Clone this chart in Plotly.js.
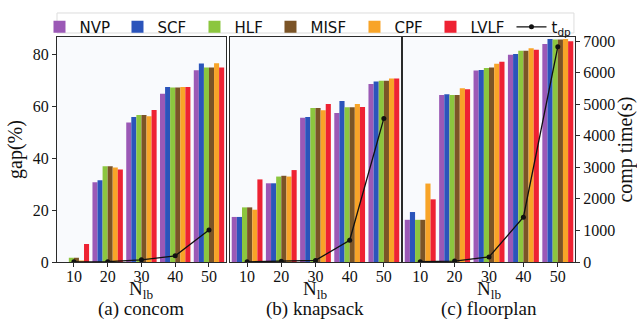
<!DOCTYPE html>
<html>
<head>
<meta charset="utf-8">
<script src="https://cdn.plot.ly/plotly-3.0.1.min.js"></script>
<style>html,body{margin:0;padding:0;background:#fff;}#chart{width:637px;height:320px;}</style>
</head>
<body>
<div id="chart"></div>
<script>
const nlb = [10, 20, 30, 40, 50];
const methods = ['NVP', 'SCF', 'HLF', 'MISF', 'CPF', 'LVLF'];
const methodColors = ['#9b59b6', '#2b54bb', '#8cc63f', '#7b5427', '#f8a428', '#ee2233'];

// gap(%) per method, for each benchmark
const concomNVP  = [0, 30.8, 53.9, 65.0, 74.1];
const concomSCF  = [0, 31.6, 56.0, 67.6, 76.7];
const concomHLF  = [1.6, 37.0, 56.8, 67.4, 75.1];
const concomMISF = [1.6, 37.0, 56.8, 67.4, 75.1];
const concomCPF  = [0.6, 36.5, 56.3, 67.6, 76.8];
const concomLVLF = [7.0, 35.7, 58.7, 67.6, 75.1];

const knapsackNVP  = [17.4, 30.4, 55.7, 57.5, 68.7];
const knapsackSCF  = [17.4, 30.4, 56.0, 62.2, 69.7];
const knapsackHLF  = [21.1, 33.0, 59.5, 59.8, 70.0];
const knapsackMISF = [21.1, 33.3, 59.5, 59.8, 70.0];
const knapsackCPF  = [20.2, 33.0, 58.6, 61.0, 70.9];
const knapsackLVLF = [31.9, 35.5, 61.0, 59.9, 70.9];

const floorplanNVP  = [16.3, 64.5, 74.0, 80.0, 84.2];
const floorplanSCF  = [19.3, 64.8, 74.2, 80.3, 86.1];
const floorplanHLF  = [16.3, 64.5, 74.9, 81.6, 85.9];
const floorplanMISF = [16.3, 64.5, 75.1, 81.6, 85.9];
const floorplanCPF  = [30.3, 67.1, 76.6, 82.6, 86.1];
const floorplanLVLF = [24.2, 66.7, 77.3, 82.0, 85.3];

// t_dp comp time (s)
const tdpConcom    = [5, 10, 70, 195, 1015];
const tdpKnapsack  = [5, 20, 50, 690, 4550];
const tdpFloorplan = [10, 30, 160, 1420, 6820];

const panelCaptions = ['(a) concom', '(b) knapsack', '(c) floorplan'];
const xTitle = 'N<sub>lb</sub>';
const gapTicks = [0, 20, 40, 60, 80];
const timeTicks = [0, 1000, 2000, 3000, 4000, 5000, 6000, 7000];

const panels = [
  {x: 'x',  y: 'y',  yt: 'y4', gaps: [concomNVP, concomSCF, concomHLF, concomMISF, concomCPF, concomLVLF], tdp: tdpConcom},
  {x: 'x2', y: 'y2', yt: 'y5', gaps: [knapsackNVP, knapsackSCF, knapsackHLF, knapsackMISF, knapsackCPF, knapsackLVLF], tdp: tdpKnapsack},
  {x: 'x3', y: 'y3', yt: 'y6', gaps: [floorplanNVP, floorplanSCF, floorplanHLF, floorplanMISF, floorplanCPF, floorplanLVLF], tdp: tdpFloorplan}
];

// legend entry widths (px) so the entries spread like the original legend
const legendWidths = [33, 32, 31, 39, 31, 36];

const traces = [];
panels.forEach((p, pi) => {
  methods.forEach((m, mi) => {
    traces.push({
      type: 'bar', x: nlb, y: p.gaps[mi], name: m, xaxis: p.x, yaxis: p.y,
      marker: {color: methodColors[mi], line: {width: 0}},
      legendgroup: m, showlegend: pi === 0, legendwidth: legendWidths[mi]
    });
  });
});
panels.forEach((p, pi) => {
  traces.push({
    type: 'scatter', mode: 'lines+markers', x: nlb, y: p.tdp, name: 't<sub>dp</sub>',
    xaxis: p.x, yaxis: p.yt, line: {color: '#111', width: 1.3}, marker: {color: '#111', size: 5},
    legendgroup: 'tdp', showlegend: pi === 0, legendwidth: 20
  });
});

const serif = 'Liberation Serif';
const frame = '#2a2a2a';
function xax(domain) {
  return {
    domain: domain, range: [5, 55], tickvals: nlb, ticks: 'outside', ticklen: 4, tickcolor: frame,
    tickfont: {family: serif, size: 16, color: '#111'}, ticklabelstandoff: -4, showline: true, mirror: true,
    linecolor: frame, linewidth: 1, showgrid: false, zeroline: false, fixedrange: true
  };
}
function gapAx(anchor, labels) {
  return {
    anchor: anchor, range: [0, 86.9], tickvals: gapTicks, ticks: labels ? 'outside' : '',
    ticklen: 4, tickcolor: frame, showticklabels: labels,
    tickfont: {family: serif, size: 16, color: '#111'}, showline: true, mirror: true,
    linecolor: frame, linewidth: 1, showgrid: false, zeroline: false, fixedrange: true
  };
}
function timeAx(anchor, over, visible) {
  return {
    anchor: anchor, overlaying: over, side: 'right', range: [0, 7130], tickvals: timeTicks,
    visible: visible, ticks: 'outside', ticklen: 4, tickcolor: frame, showline: false,
    tickfont: {family: serif, size: 16, color: '#111'}, showgrid: false, zeroline: false, fixedrange: true
  };
}

const domains = [[0, 0.326], [0.334, 0.664], [0.668, 1]];
const annotations = [];
panelCaptions.forEach((c, i) => {
  const cx = (domains[i][0] + domains[i][1]) / 2;
  annotations.push({
    text: xTitle, xref: 'paper', yref: 'paper', x: cx, y: -0.125,
    xanchor: 'center', yanchor: 'middle', showarrow: false,
    font: {family: serif, size: 19, color: '#111'}
  });
  annotations.push({
    text: c, xref: 'paper', yref: 'paper', x: cx, y: -0.21,
    xanchor: 'center', yanchor: 'middle', showarrow: false,
    font: {family: serif, size: 19, color: '#111'}
  });
});

const layout = {
  width: 637, height: 320,
  margin: {l: 57, r: 62, t: 37, b: 58, pad: 0, autoexpand: false},
  font: {family: serif, size: 16, color: '#111'},
  paper_bgcolor: '#ffffff', plot_bgcolor: '#f9fafd',
  barmode: 'group', bargap: 0.1, bargroupgap: 0,
  showlegend: true,
  legend: {
    orientation: 'h', x: -0.0338, xanchor: 'left', y: 1.044, yanchor: 'middle',
    font: {family: 'DejaVu Sans', size: 15, color: '#111'},
    bgcolor: 'rgba(0,0,0,0)', borderwidth: 0,
    traceorder: 'normal', itemwidth: 30, tracegroupgap: 0
  },
  shapes: [{
    type: 'rect', xref: 'paper', yref: 'paper', x0: 0, x1: 0.998, y0: 1.0178, y1: 1.1067,
    line: {color: '#dddddd', width: 1}, fillcolor: '#ffffff', layer: 'below'
  }],
  xaxis: xax(domains[0]), xaxis2: xax(domains[1]), xaxis3: xax(domains[2]),
  yaxis: Object.assign(gapAx('x', true), {title: {text: 'gap(%)', font: {family: serif, size: 20, color: '#111'}, standoff: 4}}),
  yaxis2: Object.assign(gapAx('x2', false), {matches: 'y'}),
  yaxis3: Object.assign(gapAx('x3', false), {matches: 'y'}),
  yaxis4: timeAx('x', 'y', false),
  yaxis5: timeAx('x2', 'y2', false),
  yaxis6: Object.assign(timeAx('x3', 'y3', true), {title: {text: 'comp time(s)', font: {family: serif, size: 20, color: '#111'}, standoff: 7}}),
  annotations: annotations
};

Plotly.newPlot('chart', traces, layout, {displayModeBar: false, staticPlot: true});
</script>
</body>
</html>
